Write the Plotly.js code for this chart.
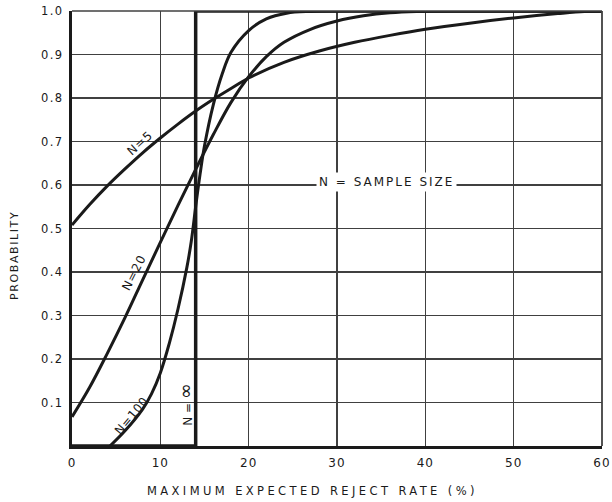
<!DOCTYPE html>
<html>
<head>
<meta charset="utf-8">
<script src="https://cdn.plot.ly/plotly-3.0.1.min.js"></script>
<style>
  html, body { margin: 0; padding: 0; background: #ffffff; }
  #chart { width: 612px; height: 502px; }
</style>
</head>
<body>
<div id="chart"></div>
<script>
// ---- data ----
const n5X   = [0, 2, 4, 6, 8, 10, 12, 14, 16, 18, 20, 24, 28, 32, 36, 40, 45, 50, 55, 58, 60];
const n5Y   = [0.508, 0.555, 0.598, 0.637, 0.674, 0.708, 0.740, 0.770, 0.797, 0.822, 0.846, 0.882, 0.908, 0.928, 0.944, 0.958, 0.972, 0.984, 0.994, 0.999, 1.0];

const n20X  = [0, 2, 4, 6, 8, 10, 12, 14, 16, 18, 20, 22, 24, 27, 30, 33, 36, 39, 45, 60];
const n20Y  = [0.067, 0.135, 0.213, 0.295, 0.382, 0.468, 0.553, 0.636, 0.716, 0.790, 0.849, 0.895, 0.928, 0.958, 0.977, 0.989, 0.996, 0.999, 1.0, 1.0];

const n100X = [4.3, 6, 8, 9, 10, 11, 12, 13, 13.5, 14, 14.5, 15, 16, 17, 18, 20, 22, 24.3, 27, 35, 60];
const n100Y = [0, 0.035, 0.085, 0.12, 0.168, 0.235, 0.315, 0.41, 0.47, 0.55, 0.625, 0.69, 0.785, 0.855, 0.905, 0.955, 0.982, 0.995, 0.999, 1.0, 1.0];

const nInfX = [0, 14, 14, 60];
const nInfY = [0, 0, 1, 1];

const xTickVals = [0, 10, 20, 30, 40, 50, 60];
const xTickText = ["0", "10", "20", "30", "40", "50", "60"];
const yTickVals = [0.1, 0.2, 0.3, 0.4, 0.5, 0.6, 0.7, 0.8, 0.9, 1.0];
const yTickText = ["0.1", "0.2", "0.3", "0.4", "0.5", "0.6", "0.7", "0.8", "0.9", "1.0"];

const xTitle = "MAXIMUM EXPECTED REJECT RATE (%)";
const yTitle = "PROBABILITY";
const noteText = "N = SAMPLE SIZE";
const curveLabels = ["N=5", "N=20", "N=100", "N = ∞"];

// ---- styling ----
const ink = "#1a1a1a";
const gridInk = "#404040";
const FONT = "DejaVu Sans";
const sp = (t, px) => '<span style="letter-spacing:' + px + 'px">' + t + '</span>';

const curve = (x, y, w) => ({
  x: x, y: y, type: "scatter", mode: "lines",
  line: { color: ink, width: w, shape: "spline", smoothing: 1 },
  hoverinfo: "skip", showlegend: false
});

const traces = [
  curve(n5X, n5Y, 3),
  curve(n20X, n20Y, 3),
  curve(n100X, n100Y, 3),
  { x: nInfX, y: nInfY, type: "scatter", mode: "lines",
    line: { color: ink, width: 3.5, shape: "linear" },
    hoverinfo: "skip", showlegend: false }
];

// the infinity label: enlarge the symbol as in the hand lettering
const infLabel = curveLabels[3].replace("∞", '<span style="font-size:19px">∞</span>');

const labelFont = { family: FONT, size: 12, color: ink };
const layout = {
  width: 612, height: 502,
  margin: { l: 72, r: 10, t: 11, b: 56 },
  paper_bgcolor: "#ffffff",
  plot_bgcolor: "#ffffff",
  showlegend: false,
  font: { family: FONT, size: 12, color: ink },
  xaxis: {
    range: [0, 60], tickvals: xTickVals, ticktext: xTickText.map(t => sp(t, 1)),
    showgrid: true, gridcolor: gridInk, gridwidth: 1.6,
    zeroline: false, showline: true, linecolor: ink, linewidth: 3,
    ticks: "", ticklabelstandoff: 4,
    tickfont: { family: FONT, size: 12, color: ink },
    fixedrange: true
  },
  yaxis: {
    range: [0, 1], tickvals: yTickVals, ticktext: yTickText.map(t => sp(t, 1.5)),
    showgrid: true, gridcolor: gridInk, gridwidth: 1.6,
    zeroline: false, showline: true, linecolor: ink, linewidth: 3,
    ticks: "", ticklabelstandoff: 3,
    tickfont: { family: FONT, size: 11.5, color: ink },
    fixedrange: true
  },
  shapes: [
    { type: "line", xref: "paper", yref: "paper", x0: 1, x1: 1, y0: 0, y1: 1,
      line: { color: gridInk, width: 1.8 } },
    { type: "line", xref: "paper", yref: "paper", x0: 0, x1: 1, y0: 1, y1: 1,
      line: { color: gridInk, width: 1.5 } }
  ],
  annotations: [
    { text: sp(xTitle, 3.4), xref: "paper", yref: "paper", x: (312 - 72) / 530, y: -(491 - 446) / 435,
      xanchor: "center", yanchor: "middle", showarrow: false,
      font: { family: FONT, size: 11.5, color: ink } },
    { text: sp(yTitle, 1.6), xref: "paper", yref: "paper", x: -(72 - 14) / 530, y: (446 - 256) / 435,
      xanchor: "center", yanchor: "middle", showarrow: false, textangle: -90,
      font: { family: FONT, size: 11, color: ink } },
    { text: sp(noteText, 2), x: 35.6, y: 0.608, xanchor: "center", yanchor: "middle",
      showarrow: false, bgcolor: "#ffffff", borderpad: 2,
      font: { family: FONT, size: 12, color: ink } },
    { text: sp(curveLabels[0], 1), x: 7.7, y: 0.697, showarrow: false, textangle: -42,
      font: labelFont },
    { text: sp(curveLabels[1], 1), x: 7.0, y: 0.398, showarrow: false, textangle: -63,
      font: labelFont },
    { text: sp(curveLabels[2], 0.5), x: 6.7, y: 0.07, showarrow: false, textangle: -50,
      font: labelFont },
    { text: infLabel, x: 12.8, y: 0.095, showarrow: false, textangle: -90,
      font: { family: FONT, size: 12, color: ink } }
  ]
};

Plotly.newPlot("chart", traces, layout, { staticPlot: true, displayModeBar: false });
</script>
</body>
</html>
